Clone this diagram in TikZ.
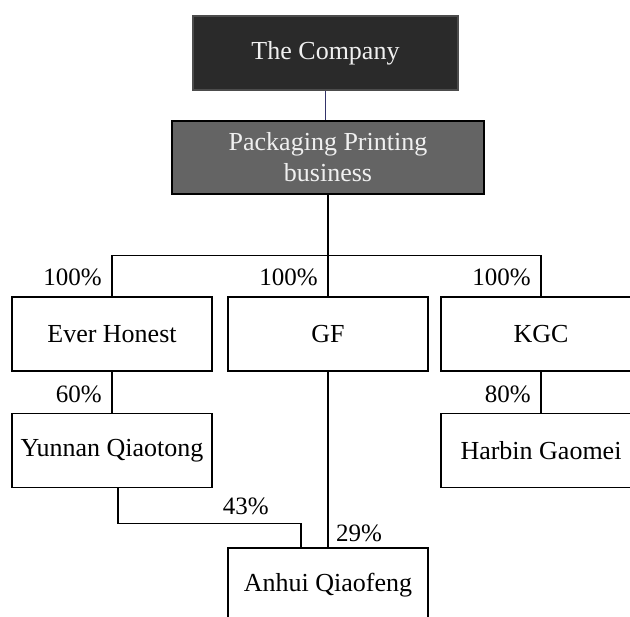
\documentclass[tikz,border=0pt]{standalone}
\usepackage{fontspec}
\setmainfont{Liberation Serif}
\usetikzlibrary{shapes,arrows}
\definecolor{darkbox}{HTML}{2A2A2A}
\definecolor{midbox}{HTML}{646464}
\definecolor{linkblue}{HTML}{34346A}
\tikzstyle{block} = [rectangle, draw, line width=1.4pt, fill=white,
    minimum width=200pt, minimum height=74pt, inner sep=0pt,
    font=\fontsize{26}{31}\selectfont]
\tikzstyle{topbox} = [block, fill=darkbox, draw=black!70, text=white!94!black,
    minimum width=265pt, minimum height=74pt]
\tikzstyle{midblock} = [block, fill=midbox, text=white!94!black, align=center,
    minimum width=312pt, minimum height=73pt]
\tikzstyle{pct} = [inner sep=0pt, font=\fontsize{25}{30}\selectfont]
\tikzstyle{line} = [draw, line width=1.2pt]

\begin{document}
\begin{tikzpicture}[x=1pt, y=-1pt, auto]
		\useasboundingbox (0,0) rectangle (630,617);
		\clip (0,0) rectangle (630,617);
		\node [topbox] (company) at (325.5,53) {The Company};
		\node [midblock] (pack) at (328,157.5) {Packaging Printing\\business};
		\node [block] (gf) at (328,334) {GF};
		\node [block] (honest) at (112,334) {Ever Honest};
		\node [block] (kgc) at (541,334) {KGC};
		\node [block] (yunnan) at (112,450.5) {Yunnan Qiaotong};
		\node [block] (harbin) at (541,450.5) {Harbin Gaomei};
		\node [block] (anhui) at (328,585) {Anhui Qiaofeng};
		
		\path [line, draw=linkblue, line width=0.8pt] (company.south) -- (company.south |- pack.north);
		\path [line] (pack.south) -- ++(0,61) -| (honest.north);
		\path [line] (pack.south) -- ++(0,61) -| (kgc.north);
		\path [line] (pack.south) -- (gf.north);
		\path [line] (honest.south) -- (yunnan.north);
		\path [line] (kgc.south) -- (harbin.north);
		\path [line] (gf.south) -- (anhui.north);
		\path [line] ([xshift=6pt]yunnan.south) -- ++(0,35) -| ([xshift=-27pt]anhui.north);
		
		\node [pct, anchor=base east] (honestpct) at ([shift={(-10,-11)}]honest.north) {100\%};
		\node [pct, anchor=base east] (gfpct) at ([shift={(-10,-11)}]gf.north) {100\%};
		\node [pct, anchor=base east] (kgcpct) at ([shift={(-10,-11)}]kgc.north) {100\%};
		\node [pct, anchor=base east] (yunnanpct) at ([shift={(-10,-10)}]yunnan.north) {60\%};
		\node [pct, anchor=base east] (harbinpct) at ([shift={(-10,-10)}]harbin.north) {80\%};
		\node [pct, anchor=base east] (qiaotongpct) at ([shift={(-59,-33)}]anhui.north) {43\%};
		\node [pct, anchor=base west] (gfanhuipct) at ([shift={(8,-6)}]anhui.north) {29\%};
	\end{tikzpicture}
\end{document}
